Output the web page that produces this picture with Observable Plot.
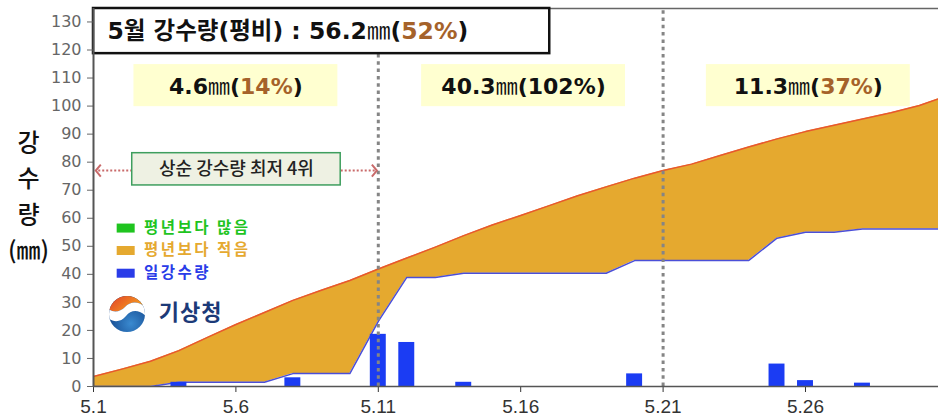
<!DOCTYPE html>
<html><head><meta charset="utf-8">
<script src="https://cdn.jsdelivr.net/npm/d3@7"></script>
<script src="https://cdn.jsdelivr.net/npm/@observablehq/plot@0.6"></script>
<style>
body{margin:0;background:#fff;}
#wrap{position:relative;width:938px;height:417px;overflow:hidden;}
#logo{position:absolute;left:108px;top:295px;}
</style></head><body>
<div id="wrap"></div>
<script>
// ---- data ----
const days      = [1,2,3,4,5,6,7,8,9,10,11,12,13,14,15,16,17,18,19,20,21,22,23,24,25,26,27,28,29,30,31];
const normalCum = [3.6,6.2,9.0,12.8,17.5,22.1,26.4,30.7,34.3,37.8,41.9,45.8,49.7,53.8,57.6,61.0,64.5,68.0,71.2,74.3,77.0,79.3,82.4,85.4,88.3,90.9,93.2,95.4,97.6,100.2,103.8];
const obsCum    = [0,0,0,1.5,1.5,1.5,1.5,4.6,4.6,4.6,23.2,38.9,38.9,40.4,40.4,40.4,40.4,40.4,40.4,44.9,44.9,44.9,44.9,44.9,52.9,55.0,55.0,56.2,56.2,56.2,56.2];
const dailyRain = [0,0,0,1.5,0,0,0,3.1,0,0,18.6,15.7,0,1.5,0,0,0,0,0,4.5,0,0,0,0,8.0,2.1,0,1.2,0,0,0];
const xTicks    = [1,6,11,16,21,26];
const yTicks    = [0,10,20,30,40,50,60,70,80,90,100,110,120,130];
const dividerDays = [11,21];
const monthTotal = "56.2", monthPct = 52;
const dekadAmounts = ["4.6","40.3","11.3"];
const dekadPcts    = [14,102,37];
const legendLabels = ["평년보다 많음","평년보다 적음","일강수량"];
const legendColors = ["#1FC41F","#E5A92F","#2A3CE8"];
const noteText = "상순 강수량 최저 4위";

// ---- layout ----
const X0 = 1, X1 = 30.67, YMAX = 134.8;
const KR  = "'Noto Sans CJK KR', sans-serif";
const MIX = "'DejaVu Sans', 'Noto Sans CJK KR', sans-serif";
const dekadCenters = [6.0, 16.1, 26.1];
const legendY = [56.5, 48.5, 40.4];

const table = days.map((d,i)=>({day:d, norm:normalCum[i], obs:obsCum[i], rain:dailyRain[i]}));
const bars = table.filter(d=>d.rain>0);
const dekads = dekadAmounts.map((a,i)=>({c:dekadCenters[i], label:`${a}㎜(${dekadPcts[i]}%)`}));
const legend = legendLabels.map((l,i)=>({label:l, color:legendColors[i], v:legendY[i]}));

const rectSym = {draw(ctx){ ctx.rect(-9,-4.5,18,9); }};
const chevL = {draw(ctx){ ctx.moveTo(5,-6); ctx.lineTo(0,0); ctx.lineTo(5,6); }};
const chevR = {draw(ctx){ ctx.moveTo(-5,-6); ctx.lineTo(0,0); ctx.lineTo(-5,6); }};

const chart = Plot.plot({
  width:938, height:417, marginLeft:93, marginRight:0, marginTop:8, marginBottom:31,
  x:{domain:[X0,X1]}, y:{domain:[0,YMAX]}, color:{type:"identity"},
  style:{background:"transparent", overflow:"visible"},
  marks:[
    Plot.areaY(table,{x:"day", y1:"obs", y2:"norm", fill:"#E5A92F", clip:true}),
    Plot.lineY(table,{x:"day", y:"norm", stroke:"#E8572E", strokeWidth:1.5, clip:true}),
    Plot.lineY(table,{x:"day", y:"obs", stroke:"#4B4FD8", strokeWidth:1.5, clip:true}),
    Plot.rectY(bars,{x1:d=>d.day-0.28, x2:d=>d.day+0.28, y:"rain", fill:"#1B3CF3"}),
    Plot.ruleX(dividerDays,{y1:0, y2:YMAX-0.8, stroke:"#858585", strokeWidth:3, strokeDasharray:"3.5,3.8"}),
    Plot.ruleY([YMAX],{stroke:"#666", strokeWidth:1.5}),
    // title box
    Plot.rect([0],{x1:1, x2:17.02, y1:118.7, y2:YMAX, fill:"white", stroke:"#111", strokeWidth:2.5}),
    Plot.text([`5월 강수량(평비) : ${monthTotal}㎜(${monthPct}%)`],{x:1.49, y:126.6, text:d=>d, textAnchor:"start", fontSize:23.5, fontWeight:"bold", fontFamily:MIX, fill:"#111"}),
    // dekad labels
    Plot.rect(dekads,{x1:d=>d.c-3.58, x2:d=>d.c+3.58, y1:99.8, y2:114.8, fill:"#FFFFD0"}),
    Plot.text(dekads,{x:"c", y:106.9, text:"label", fontSize:22, fontWeight:"bold", fontFamily:MIX, fill:"#111"}),
    // note
    Plot.link([0],{x1:2.36, x2:1.15, y1:77.0, y2:77.0, stroke:"#C96A6A", strokeWidth:2, strokeDasharray:"2,2"}),
    Plot.link([0],{x1:9.68, x2:10.9, y1:77.0, y2:77.0, stroke:"#C96A6A", strokeWidth:2, strokeDasharray:"2,2"}),
    Plot.dot([0],{x:1.08, y:77.0, symbol:chevL, fill:"none", stroke:"#C96A6A", strokeWidth:2}),
    Plot.dot([0],{x:10.95, y:77.0, symbol:chevR, fill:"none", stroke:"#C96A6A", strokeWidth:2}),
    Plot.rect([0],{x1:2.36, x2:9.68, y1:71.7, y2:83.2, fill:"#EEF1E3", stroke:"#3E9E5E", strokeWidth:1.5}),
    Plot.text([noteText],{x:6.02, y:77.4, text:d=>d, fontSize:18, fontWeight:500, fontFamily:KR, fill:"#222"}),
    // legend
    Plot.dot(legend,{x:2.13, y:"v", symbol:rectSym, fill:"color", stroke:"none"}),
    Plot.text(legend,{x:2.77, y:"v", text:"label", fill:"color", textAnchor:"start", fontSize:15.5, fontWeight:"bold", fontFamily:KR, className:"lgtxt"}),
    Plot.text(["기상청"],{x:3.29, y:26.4, text:d=>d, textAnchor:"start", fontSize:22, fontWeight:"bold", fontFamily:KR, fill:"#1C3A78", className:"kma"}),
    // y label
    Plot.text(["강\n수\n량\n(㎜)"],{frameAnchor:"left", dx:-65, y:68.8, text:d=>d, textAnchor:"middle", fontSize:24, lineHeight:1.5, fontWeight:500, fontFamily:KR, fill:"#111"}),
    // axes
    Plot.axisY({ticks:yTicks, tickSize:6, tickPadding:6, fontSize:16, fontFamily:"'DejaVu Sans', sans-serif", color:"#666", label:null}),
    Plot.axisX({ticks:xTicks, tickFormat:d=>`5.${d}`, tickSize:6, tickPadding:7, fontSize:19, fontFamily:"'Liberation Sans', sans-serif", color:"#333", label:null}),
    Plot.ruleY([0],{stroke:"#555", strokeWidth:1.5}),
    Plot.ruleX([X0],{stroke:"#555", strokeWidth:2})
  ]
});

// colour the percentage parts and thin the ㎜ glyph
chart.querySelectorAll("text").forEach(t=>{
  if (t.querySelector("tspan")) return;
  const m = t.textContent.match(/^(.*?)㎜\((\d+)%\)$/);
  if (!m) return;
  const NS = "http://www.w3.org/2000/svg";
  t.textContent = "";
  t.appendChild(document.createTextNode(m[1]));
  const mm = document.createElementNS(NS,"tspan"); mm.setAttribute("font-weight","normal"); mm.textContent="㎜"; t.appendChild(mm);
  t.appendChild(document.createTextNode("("));
  const p = document.createElementNS(NS,"tspan"); p.textContent = m[2]+"%";
  if (+m[2] < 100) p.setAttribute("fill","#A5622A");
  t.appendChild(p);
  t.appendChild(document.createTextNode(")"));
});
chart.querySelectorAll(".lgtxt text").forEach(t=>t.setAttribute("letter-spacing","2.5"));
chart.querySelectorAll(".kma text").forEach(t=>t.setAttribute("letter-spacing","1"));

const wrap = document.getElementById("wrap");
wrap.appendChild(chart);
wrap.insertAdjacentHTML("beforeend", `
<svg id="logo" width="38" height="38" viewBox="0 0 38 38">
<defs>
<linearGradient id="lgTop" x1="0" y1="0" x2="1" y2="0.5"><stop offset="0" stop-color="#E0382A"/><stop offset="1" stop-color="#F6A21E"/></linearGradient>
<radialGradient id="lgBot" cx="0.6" cy="0.75" r="0.75"><stop offset="0" stop-color="#3A8AD0"/><stop offset="1" stop-color="#0B3A80"/></radialGradient>
<clipPath id="lc"><circle cx="19" cy="19" r="18"/></clipPath>
</defs>
<g clip-path="url(#lc)">
<rect width="38" height="38" fill="url(#lgBot)"/>
<path d="M0 0 H38 V13 C30 5 22 7 17 12 C12 17 6 18 0 14 Z" fill="url(#lgTop)"/>
<path d="M0 14 C6 18 12 17 17 12 C22 7 30 5 38 13 V21 C30 14 23 15 18 21 C13 27 6 28 0 23 Z" fill="#fff"/>
</g>
</svg>`);
</script></body></html>
